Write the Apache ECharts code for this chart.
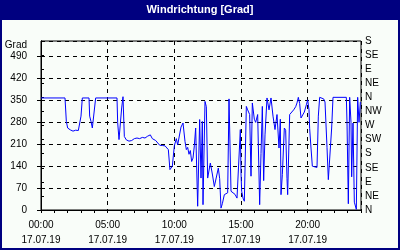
<!DOCTYPE html>
<html><head><meta charset="utf-8">
<script src="https://cdn.jsdelivr.net/npm/echarts@6/dist/echarts.min.js"></script>
<style>html,body{margin:0;padding:0;background:#f9fdf9}#c{width:400px;height:250px}</style>
</head><body><div id="c"></div>
<script>
const title = 'Windrichtung [Grad]';
const dateLabel = '17.07.19';
const leftTicks = [0, 70, 140, 210, 280, 350, 420, 490];
const rightTickLabels = ['N','NE','E','SE','S','SW','W','NW','N','NE','E','SE','S'];
const hours = [0.0,1.8,1.9,2.0,2.2,2.4,2.6,2.8,2.9,3.0,3.1,3.6,3.65,3.75,3.85,3.95,4.1,5.7,5.75,5.85,5.95,6.05,6.15,6.25,6.4,6.6,6.8,7.0,7.2,7.4,7.6,7.8,8.0,8.1,8.2,8.35,8.5,8.6,8.75,8.9,9.1,9.3,9.45,9.55,9.67,9.85,10.0,10.15,10.25,10.35,10.5,10.65,10.8,10.9,11.0,11.1,11.2,11.3,11.4,11.5,11.6,11.75,11.9,12.0,12.1,12.15,12.3,12.4,12.5,12.7,12.85,13.0,13.15,13.3,13.4,13.5,13.6,13.75,13.9,14.0,14.1,14.25,14.4,14.55,14.7,14.85,14.95,15.0,15.05,15.15,15.25,15.4,15.5,15.65,15.75,15.85,16.0,16.1,16.25,16.4,16.5,16.6,16.7,16.8,16.95,17.1,17.25,17.4,17.55,17.7,17.85,17.95,18.0,18.1,18.25,18.35,18.45,18.5,18.65,18.8,18.95,19.1,19.2,19.3,19.4,19.5,19.6,19.75,19.9,20.0,20.1,20.15,20.25,20.35,20.5,20.7,20.8,20.9,21.2,21.3,21.45,21.55,21.7,21.8,21.9,22.9,22.95,23.05,23.15,23.25,23.3,23.4,23.5,23.65,23.75,23.85,23.95];
const degrees = [358,358,283,262,256,252,255,254,256,300,358,358,300,283,262,265,358,358,280,225,219,326,362,235,224,220,222,228,230,228,232,230,236,230,240,228,232,222,218,207,206,205,200,193,129,140,205,228,208,213,265,278,219,193,200,178,190,155,166,205,262,12,289,102,283,17,347,330,102,150,115,75,70,134,100,6,20,49,54,55,355,60,62,50,38,35,257,118,60,38,28,331,320,305,108,342,290,280,305,17,180,331,94,240,358,320,358,300,257,305,198,290,49,113,262,255,100,49,305,310,320,330,342,360,340,294,300,313,336,352,320,260,198,140,136,136,300,360,355,345,200,97,97,262,360,360,280,20,360,280,106,278,25,2,360,280,345];
const seriesData = hours.map((h, i) => [h, degrees[i]]);

const FONT = '"Liberation Sans", Arial, sans-serif';
const chart = echarts.init(document.getElementById('c'), null, {renderer: 'canvas'});
const pad = n => (n < 10 ? '0' : '') + n;
chart.setOption({
  animation: false,
  backgroundColor: '#f9fdf9',
  textStyle: {fontFamily: FONT},
  grid: {left: 41, right: 39, top: 41, bottom: 40, show: true, borderColor: '#000', borderWidth: 1, backgroundColor: 'transparent'},
  graphic: [
    {type: 'rect', shape: {x: 0, y: 0, width: 400, height: 20}, style: {fill: '#000080'}, z: 10},
    {type: 'rect', shape: {x: 1, y: 1, width: 398, height: 248}, style: {fill: 'none', stroke: '#000080', lineWidth: 2}, z: 10},
    {type: 'text', x: 200, y: 10, style: {text: title, fill: '#fff', font: 'bold 11px ' + FONT, textAlign: 'center', textVerticalAlign: 'middle'}, z: 11}
  ],
  xAxis: [
    {type: 'value', min: 0, max: 24, interval: 1,
     axisLine: {show: true, lineStyle: {color: '#000'}},
     axisTick: {show: true, length: 3, lineStyle: {color: '#000'}},
     axisLabel: {show: false}, splitLine: {show: false}},
    {type: 'value', min: 0, max: 24, interval: 5, position: 'bottom',
     axisLine: {show: false}, axisTick: {show: false},
     axisLabel: {show: true, margin: 8, color: '#000', fontSize: 10, fontFamily: FONT, lineHeight: 15, showMaxLabel: false,
       formatter: v => pad(v) + ':00\n' + dateLabel},
     splitLine: {show: true, lineStyle: {color: '#000', type: [4, 4], width: 1}}}
  ],
  yAxis: [
    {type: 'value', min: 0, max: 540, interval: 70, position: 'left',
     name: 'Grad', nameLocation: 'end', nameGap: -4,
     nameTextStyle: {color: '#000', fontSize: 10, fontFamily: FONT, align: 'right', verticalAlign: 'middle', padding: [0, 14, 0, 0]},
     axisLine: {show: true, lineStyle: {color: '#000'}},
     axisTick: {show: true, length: 8, lineStyle: {color: '#000', type: [4, 4]}},
     axisLabel: {show: true, margin: 14, color: '#000', fontSize: 10, fontFamily: FONT, showMaxLabel: false,
       formatter: v => leftTicks.indexOf(v) >= 0 ? String(v) : ''},
     splitLine: {show: true, lineStyle: {color: '#000', type: [4, 4], width: 1}}},
    {type: 'value', min: 0, max: 540, interval: 45, position: 'right',
     axisLine: {show: true, lineStyle: {color: '#000'}},
     axisTick: {show: true, length: 3, lineStyle: {color: '#000'}},
     axisLabel: {show: true, margin: 4, color: '#000', fontSize: 10, fontFamily: FONT,
       formatter: v => rightTickLabels[Math.round(v / 45)] || ''},
     splitLine: {show: false}}
  ],
  series: [{type: 'line', xAxisIndex: 0, yAxisIndex: 0, data: seriesData, showSymbol: false, symbol: 'none',
    lineStyle: {color: '#0000ff', width: 1}, z: 5}]
});
</script></body></html>
